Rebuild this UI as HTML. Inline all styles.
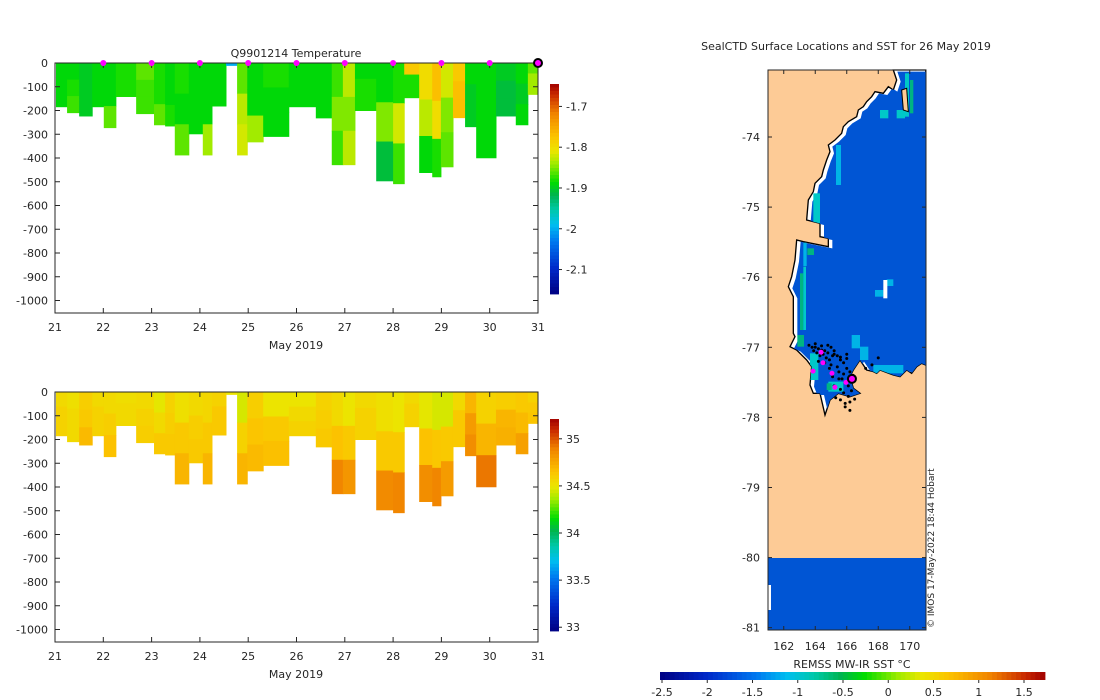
<!DOCTYPE html>
<html><head><meta charset="utf-8">
<style>
body{margin:0;background:#fff;}
svg{display:block;font-family:"DejaVu Sans","Liberation Sans",sans-serif;font-size:11px;fill:#262626;}
</style></head>
<body>
<svg id="fig" width="1100" height="700" xmlns="http://www.w3.org/2000/svg">
<g id="top"></g>
<g id="bot"></g>
<g id="map"></g>
</svg>
<script>
// ---- section data ----
const colEdges=[21.02,21.25,21.50,21.77,22.01,22.26,22.68,23.05,23.28,23.48,23.77,24.06,24.25,24.54,24.77,24.98,25.31,25.84,26.40,26.73,26.96,27.21,27.65,28.00,28.23,28.54,28.81,28.99,29.24,29.49,29.72,30.13,30.54,30.79,31.0];
const colDepth=[184,209,223,184,272,141,213,260,265,387,298,387,181,10,387,332,309,184,231,428,428,200,496,508,146,461,479,437,230,268,399,223,260,132];
const tempTop=[-1.89,-1.89,-1.90,-1.89,-1.89,-1.88,-1.86,-1.88,-1.89,-1.88,-1.89,-1.89,-1.89,-2.0,-1.86,-1.89,-1.88,-1.89,-1.89,-1.87,-1.83,-1.89,-1.89,-1.88,-1.78,-1.80,-1.77,-1.82,-1.78,-1.89,-1.89,-1.90,-1.89,-1.86];
const tempMid=[-1.89,-1.88,-1.90,-1.89,-1.89,-1.88,-1.87,-1.88,-1.89,-1.89,-1.89,-1.89,-1.89,-2.0,-1.83,-1.89,-1.89,-1.89,-1.89,-1.85,-1.85,-1.88,-1.85,-1.82,-1.88,-1.83,-1.80,-1.85,-1.77,-1.90,-1.89,-1.91,-1.90,-1.84];
const tempBot=[-1.89,-1.87,-1.90,-1.89,-1.86,-1.88,-1.87,-1.86,-1.88,-1.86,-1.89,-1.84,-1.89,-2.0,-1.82,-1.84,-1.89,-1.89,-1.89,-1.87,-1.83,-1.88,-1.91,-1.87,-1.88,-1.89,-1.88,-1.86,-1.77,-1.90,-1.89,-1.91,-1.89,-1.84];
const salTop=[34.55,34.52,34.60,34.55,34.55,34.53,34.55,34.48,34.58,34.52,34.55,34.56,34.58,34.50,34.45,34.60,34.50,34.50,34.58,34.55,34.50,34.55,34.52,34.50,34.55,34.48,34.45,34.45,34.55,34.70,34.58,34.60,34.62,34.58];
const salMid=[34.58,34.55,34.62,34.58,34.60,34.55,34.58,34.55,34.60,34.62,34.60,34.62,34.62,34.50,34.58,34.64,34.62,34.55,34.60,34.65,34.62,34.58,34.62,34.62,34.58,34.65,34.63,34.62,34.62,34.80,34.70,34.70,34.68,34.62];
const salBot=[34.58,34.55,34.68,34.58,34.65,34.55,34.60,34.62,34.62,34.70,34.62,34.70,34.62,34.50,34.70,34.68,34.66,34.58,34.62,34.88,34.82,34.58,34.86,34.88,34.58,34.85,34.88,34.80,34.62,34.85,34.92,34.72,34.78,34.64];
const markerDays=[22,23,24,25,26,27,28,29,30];
const xTicks=[21,22,23,24,25,26,27,28,29,30,31];
const yTicks=[0,-100,-200,-300,-400,-500,-600,-700,-800,-900,-1000];
const tempCbTicks=[-1.7,-1.8,-1.9,-2,-2.1];
const salCbTicks=[35,34.5,34,33.5,33];
// ---- map data ----
const magLon=[164.37,164.49,163.86,165.06,165.25,165.95];
const magLat=[-77.07,-77.22,-77.34,-77.37,-77.57,-77.50];
const lastLon=[166.33], lastLat=[-77.45];
const dotLon=[163.6,163.8,164.0,164.2,164.4,164.6,164.8,165.0,165.2,164.1,164.3,164.5,164.7,164.9,165.1,163.9,164.2,164.6,165.0,165.4,165.6,165.8,166.0,166.2,166.4,165.7,165.9,166.1,166.3,165.5,165.8,166.1,165.3,165.6,165.9,166.2,166.5,167.2,167.6,168.0,165.2,165.6,165.9,166.2,166.0,164.9,165.1,165.4,164.0,164.4,164.8,165.2,165.6,166.0,165.8,165.5];
const dotLat=[-76.97,-77.0,-76.95,-77.02,-76.98,-77.05,-76.97,-77.0,-77.05,-77.08,-77.12,-77.1,-77.15,-77.18,-77.12,-77.05,-77.2,-77.22,-77.25,-77.28,-77.18,-77.22,-77.3,-77.35,-77.4,-77.45,-77.5,-77.55,-77.62,-77.35,-77.65,-77.7,-77.72,-77.75,-77.8,-77.78,-77.74,-77.3,-77.25,-77.15,-77.55,-77.6,-77.85,-77.9,-77.1,-77.3,-77.42,-77.12,-77.0,-77.04,-77.08,-77.1,-77.14,-77.16,-77.38,-77.45];
const lonTicks=[162,164,166,168,170];
const latTicks=[-74,-75,-76,-77,-78,-79,-80,-81];
const sstTicks=[-2.5,-2,-1.5,-1,-0.5,0,0.5,1,1.5];

const NS="http://www.w3.org/2000/svg";
function mk(parent,tag,attrs,text){const e=document.createElementNS(NS,tag);for(const k in attrs)e.setAttribute(k,attrs[k]);if(text!==undefined)e.textContent=text;parent.appendChild(e);return e;}
const stops=[[0,[0,0,130]],[0.12,[0,40,200]],[0.25,[0,120,240]],[0.33,[0,190,240]],[0.40,[0,200,170]],[0.47,[0,180,80]],[0.53,[0,220,0]],[0.62,[160,235,0]],[0.68,[235,230,0]],[0.75,[252,195,0]],[0.86,[240,130,0]],[0.95,[200,40,0]],[1,[160,0,0]]];
function cmap(f){f=Math.max(0,Math.min(1,f));for(let i=1;i<stops.length;i++){if(f<=stops[i][0]){const a=stops[i-1],b=stops[i],t=(f-a[0])/(b[0]-a[0]);const c=a[1].map((v,j)=>Math.round(v+(b[1][j]-v)*t));return `rgb(${c})`;}}return 'rgb(160,0,0)';}

function section(g,top,lay,vmin,vmax,cbTop,cbBot,cbTicks,markers){
  const X=d=>55+(d-21)*48.3, Y=z=>top-z*0.2375;
  const bottom=top+250;
  for(let i=0;i<colDepth.length;i++){
    const x0=X(colEdges[i]),x1=X(colEdges[i+1]),dep=colDepth[i];
    for(let k=0;k<3;k++){
      const z0=dep*k/3,z1=dep*(k+1)/3;
      const r=mk(g,'rect',{x:x0,y:Y(-z0),width:x1-x0+0.5,height:Y(-z1)-Y(-z0)+0.5,fill:cmap((lay[k][i]-vmin)/(vmax-vmin))});
      
      
    }
  }
  mk(g,'rect',{x:55,y:top,width:483,height:250,fill:'none',stroke:'#262626','stroke-width':1,});
  xTicks.forEach(d=>{const x=X(d);mk(g,'line',{x1:x,x2:x,y1:bottom,y2:bottom-5,stroke:'#262626'});mk(g,'line',{x1:x,x2:x,y1:top,y2:top+5,stroke:'#262626'});
    const t=mk(g,'text',{x:x,y:bottom+18,'text-anchor':'middle'},d);});
  yTicks.forEach(v=>{const y=Y(v);mk(g,'line',{x1:55,x2:60,y1:y,y2:y,stroke:'#262626'});mk(g,'line',{x1:538,x2:533,y1:y,y2:y,stroke:'#262626'});
    const t=mk(g,'text',{x:48,y:y+4,'text-anchor':'end'},v);});
  const xl=mk(g,'text',{x:296,y:bottom+36,'text-anchor':'middle'},'May 2019');
  const cb=mk(g,'g',{});
  const n=60,h=(cbBot-cbTop)/n;
  for(let i=0;i<n;i++)mk(cb,'rect',{x:550,y:cbTop+i*h,width:9,height:h+0.4,fill:cmap(1-(i+0.5)/n)});
  cbTicks.forEach(v=>{const y=cbBot-(v-vmin)/(vmax-vmin)*(cbBot-cbTop);mk(cb,'line',{x1:559,x2:562,y1:y,y2:y,stroke:'#262626'});
    const t=mk(cb,'text',{x:566,y:y+4},v);});
  if(markers){
    markerDays.forEach(d=>{const c=mk(g,'circle',{cx:X(d),cy:top,r:3,fill:'#ff00ff'});});
    const c=mk(g,'circle',{cx:X(31),cy:top,r:4,fill:'#ff00ff',stroke:'#000','stroke-width':2});
    const t=mk(g,'text',{x:296,y:57,'text-anchor':'middle'},'Q9901214  Temperature');
  }
}
section(document.getElementById('top'),63,[tempTop,tempMid,tempBot],-2.16,-1.645,84,294,tempCbTicks,true);
section(document.getElementById('bot'),392,[salTop,salMid,salBot],32.96,35.21,419,631,salCbTicks,false);

// ---- map ----
const m=document.getElementById('map');
const LX=lon=>768+(lon-161)*15.75, LY=lat=>137+(-74-lat)*70.1;
const P="400,30 410,60 400,90 385,80 370,100 345,95 335,110 320,125 310,140 295,150 290,170 265,185 250,200 245,220 225,240 205,255 210,275 200,300 190,330 185,350 165,370 160,395 145,420 140,480 180,490 180,530 205,535 205,560 130,545 110,540 105,600 95,650 85,680 100,710 100,820 105,830 90,860 110,870 140,900 155,920 150,975 160,1000 180,1000 195,1065 210,1020 235,1000 270,1010 300,1000 280,985 270,950 280,930 300,900 320,930 340,935 350,940 360,930 400,945 420,950 440,930 455,940 470,920 485,910 497,915 497,30";
m.innerHTML=`
<defs><clipPath id="sea"><polygon points="${P}"/></clipPath></defs>
<rect x="768" y="70" width="158" height="560" fill="#fdcb96"/>
<g transform="translate(760,60) scale(0.33333)">
<polygon points="${P}" fill="#fff" stroke="#000" stroke-width="4"/>
<g clip-path="url(#sea)">
<polygon transform="translate(12,5)" points="${P}" fill="#0055d4"/>
<rect x="130" y="548" width="10" height="70" fill="#00b4e6"/><rect x="142" y="565" width="20" height="20" fill="#00b482"/>
<rect x="120" y="640" width="10" height="170" fill="#00b482"/><rect x="130" y="620" width="8" height="190" fill="#00c8c8"/>
<rect x="112" y="825" width="20" height="35" fill="#00b482"/><rect x="150" y="880" width="25" height="80" fill="#00c8c8"/>
<rect x="205" y="965" width="45" height="30" fill="#00c8c8"/><rect x="200" y="970" width="15" height="20" fill="#00b482"/>
<rect x="275" y="825" width="25" height="40" fill="#00b4e6"/><rect x="300" y="860" width="25" height="40" fill="#00b4e6"/>
<rect x="340" y="915" width="90" height="25" fill="#00b4e6"/>
<rect x="160" y="400" width="20" height="90" fill="#00c8c8"/><rect x="228" y="255" width="15" height="120" fill="#00b4e6"/>
<rect x="435" y="40" width="12" height="130" fill="#00c8c8"/><rect x="450" y="60" width="10" height="100" fill="#00b482"/>
<rect x="360" y="150" width="25" height="25" fill="#00c8c8"/><rect x="410" y="150" width="25" height="25" fill="#00c8c8"/>
<rect x="345" y="690" width="25" height="20" fill="#00b4e6"/><rect x="380" y="658" width="20" height="20" fill="#00b4e6"/>
</g>
<polygon points="425,90 440,85 445,155 430,150" fill="#fdcb96" stroke="#000" stroke-width="3"/>
<rect x="370" y="660" width="12" height="55" fill="#fff"/>
</g>
<rect x="768" y="558" width="158" height="72" fill="#0055d4"/>
<rect x="768" y="585" width="3" height="25" fill="#fff"/>
`;
dotLon.forEach((lo,i)=>{const c=mk(m,'circle',{cx:LX(lo),cy:LY(dotLat[i]),r:1.5,fill:'#000'});});
magLon.forEach((lo,i)=>{const c=mk(m,'circle',{cx:LX(lo),cy:LY(magLat[i]),r:2.5,fill:'#ff00ff'});});
lastLon.forEach((lo,i)=>{const c=mk(m,'circle',{cx:LX(lo),cy:LY(lastLat[i]),r:4,fill:'#ff00ff',stroke:'#000','stroke-width':2});});
mk(m,'rect',{x:768,y:70,width:158,height:560,fill:'none',stroke:'#262626'});
lonTicks.forEach(v=>{const x=LX(v);mk(m,'line',{x1:x,x2:x,y1:630,y2:626,stroke:'#262626'});mk(m,'line',{x1:x,x2:x,y1:70,y2:74,stroke:'#262626'});
  const t=mk(m,'text',{x:x,y:650,'text-anchor':'middle'},v);});
latTicks.forEach(v=>{const y=LY(v);mk(m,'line',{x1:768,x2:772,y1:y,y2:y,stroke:'#262626'});mk(m,'line',{x1:926,x2:922,y1:y,y2:y,stroke:'#262626'});
  const t=mk(m,'text',{x:760,y:y+4,'text-anchor':'end'},v);});
let t=mk(m,'text',{x:846,y:50,'text-anchor':'middle'},'SealCTD Surface Locations and SST for 26 May 2019');
t=mk(m,'text',{x:0,y:0,transform:'translate(934,628) rotate(-90)','font-size':'9'},'© IMOS 17-May-2022 18:44 Hobart');
const SX=v=>662+(v+2.5)*90.5;
const hb=mk(m,'g',{});
for(let i=0;i<80;i++){const w=(1045-660)/80;mk(hb,'rect',{x:660+i*w,y:672,width:w+0.4,height:8,fill:cmap((i+0.5)/80)});}
sstTicks.forEach(v=>{const x=SX(v);mk(hb,'line',{x1:x,x2:x,y1:680,y2:683,stroke:'#262626'});
  const tt=mk(hb,'text',{x:x,y:696,'text-anchor':'middle'},v);});
t=mk(m,'text',{x:852,y:668,'text-anchor':'middle'},'REMSS MW-IR SST °C');
</script>
</body></html>
